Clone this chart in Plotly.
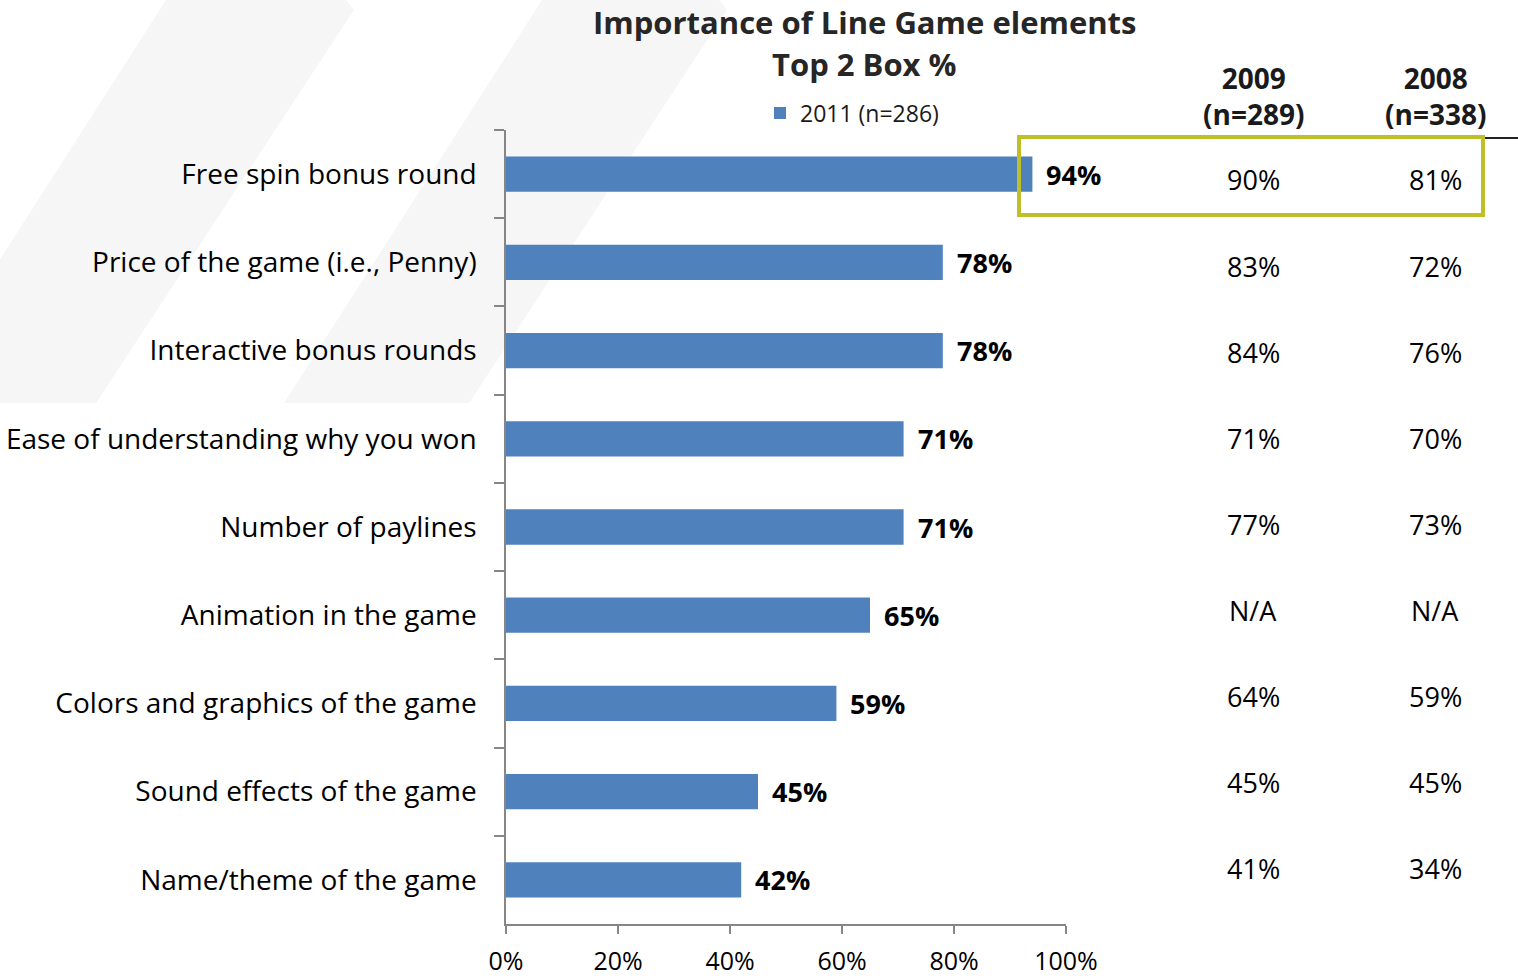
import plotly.graph_objects as go

# Survey results: share rating each element as important (top 2 box)
elements = [
    "Free spin bonus round",
    "Price of the game (i.e., Penny)",
    "Interactive bonus rounds",
    "Ease of understanding why you won",
    "Number of paylines",
    "Animation in the game",
    "Colors and graphics of the game",
    "Sound effects of the game",
    "Name/theme of the game",
]
pct_2011 = [94, 78, 78, 71, 71, 65, 59, 45, 42]
pct_2009 = ["90%", "83%", "84%", "71%", "77%", "N/A", "64%", "45%", "41%"]
pct_2008 = ["81%", "72%", "76%", "70%", "73%", "N/A", "59%", "45%", "34%"]
x_ticks = [0, 20, 40, 60, 80, 100]
x_tick_labels = ["0%", "20%", "40%", "60%", "80%", "100%"]

W, H = 1518, 980
L, R, T, B = 506, 1066, 130, 924
FONT = "Open Sans"
BLUE = "#4f81bd"


def px(x):
    return (x - L) / (R - L)


def py(y):
    return (B - y) / (B - T)


fig = go.Figure()
fig.add_trace(go.Bar(
    x=pct_2011, y=elements, orientation="h",
    marker=dict(color=BLUE, line=dict(width=0)),
    name="2011 (n=286)", showlegend=True,
))

annotations = []
# value labels at the bar ends
for cat, v in zip(elements, pct_2011):
    annotations.append(dict(
        x=v, y=cat, xref="x", yref="y", text=f"<b>{v}%</b>",
        showarrow=False, xanchor="left", xshift=12, yshift=0,
        font=dict(family=FONT, size=27, color="#000"),
    ))

# comparison columns for earlier waves
row0, row_step = 180, 86.1
for i, (a, b) in enumerate(zip(pct_2009, pct_2008)):
    yy = py(row0 + i * row_step)
    for xx, t in ((1253, a), (1435, b)):
        annotations.append(dict(
            x=px(xx), y=yy, xref="paper", yref="paper", text=t,
            showarrow=False, xanchor="center", yanchor="middle",
            font=dict(family=FONT, size=27, color="#000"),
        ))

for xx, yr, nn in ((1253, "2009", "(n=289)"), (1435, "2008", "(n=338)")):
    annotations.append(dict(
        x=px(xx), y=py(96), xref="paper", yref="paper",
        text=f"<b>{yr}</b><br><b>{nn}</b>", showarrow=False,
        xanchor="center", yanchor="middle",
        font=dict(family=FONT, size=28, color="#1a1a1a"),
    ))

# chart title
annotations.append(dict(
    x=px(864), y=py(0), xref="paper", yref="paper",
    text="<b>Importance of Line Game elements</b>", showarrow=False,
    xanchor="center", yanchor="top", borderpad=0,
    font=dict(family=FONT, size=31, color="#262626"),
))
annotations.append(dict(
    x=px(864), y=py(64), xref="paper", yref="paper",
    text="<b>Top 2 Box %</b>", showarrow=False,
    xanchor="center", yanchor="middle",
    font=dict(family=FONT, size=31, color="#262626"),
))

shapes = []
# faint background chevron bands
slope = 0.64
bottom = 403
for x0, x1 in ((166, 354), (542, 727)):
    bl = x0 - slope * bottom
    br = x1 - slope * bottom
    pts = [(x0, 0), (x1 - 8, 0), (x1, 10), (br, bottom), (max(bl, 0), bottom)]
    if bl < 0:
        pts.append((0, x0 / slope))
    path = "M " + " L ".join(f"{px(a):.5f},{py(b):.5f}" for a, b in pts) + " Z"
    shapes.append(dict(type="path", path=path, xref="paper", yref="paper",
                       fillcolor="#f6f6f6", line=dict(width=0), layer="below"))

# rule under the column headers
shapes.append(dict(type="line", xref="paper", yref="paper",
                   x0=px(1163), x1=px(1518), y0=py(138), y1=py(138),
                   line=dict(color="#222", width=2)))
# highlight around the top row
shapes.append(dict(type="rect", xref="paper", yref="paper",
                   x0=px(1019), x1=px(1483), y0=py(137), y1=py(215),
                   line=dict(color="#bfbf28", width=4)))

fig.update_layout(
    width=W, height=H,
    margin=dict(l=L, r=W - R, t=T, b=H - B, pad=0, autoexpand=False),
    paper_bgcolor="white", plot_bgcolor="rgba(0,0,0,0)",
    bargap=0.6,
    font=dict(family=FONT, color="#000"),
    annotations=annotations, shapes=shapes,
    legend=dict(
        x=px(760), y=py(113), xanchor="left", yanchor="middle",
        bgcolor="rgba(0,0,0,0)", font=dict(family=FONT, size=23, color="#1a1a1a"),
        itemwidth=30, tracegroupgap=0,
    ),
    xaxis=dict(
        range=[0, 100], tickvals=x_ticks, ticktext=x_tick_labels,
        showgrid=False, zeroline=False, showline=True,
        linecolor="#868686", linewidth=1.5,
        ticks="outside", ticklen=8, tickwidth=1.5, tickcolor="#868686",
        ticklabelstandoff=6, automargin=False,
        tickfont=dict(family=FONT, size=25, color="#000"),
        fixedrange=True,
    ),
    yaxis=dict(
        type="category", autorange="reversed",
        showgrid=False, zeroline=False, showline=True,
        linecolor="#868686", linewidth=1.5,
        ticks="outside", ticklen=10, tickwidth=1.5, tickcolor="#868686",
        tickson="boundaries", ticklabelstandoff=22, automargin=False,
        tickfont=dict(family=FONT, size=28, color="#000"),
        fixedrange=True,
    ),
)

fig.write_html("out.html")
